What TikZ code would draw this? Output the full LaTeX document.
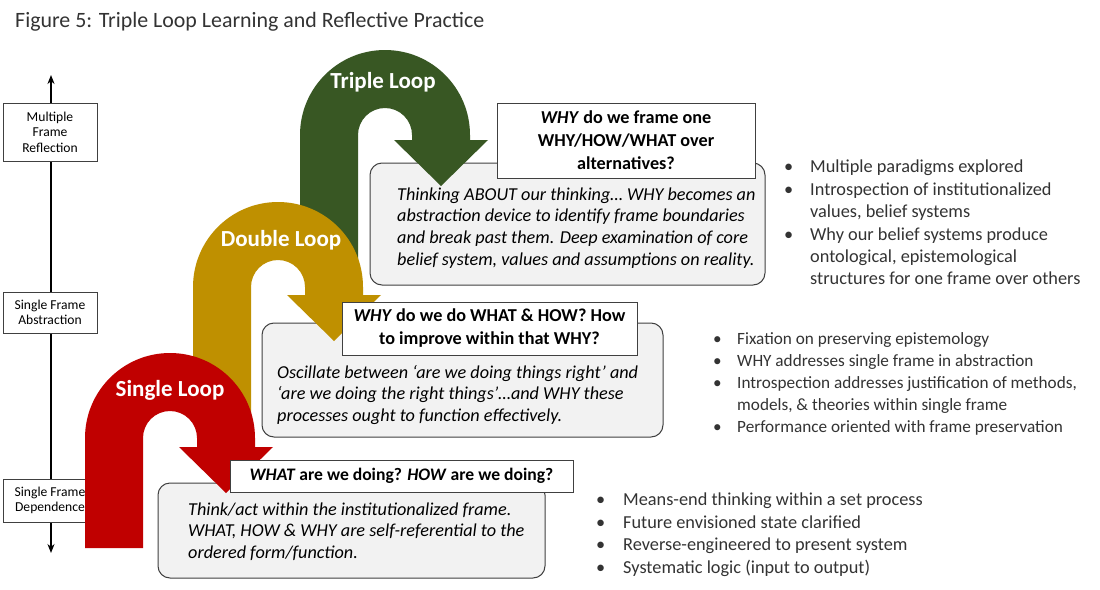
\documentclass[tikz,border=0pt]{standalone}
\usepackage{fontspec}
\setmainfont{Carlito}
\usetikzlibrary{arrows.meta}
\definecolor{redloop}{HTML}{C00000}
\definecolor{goldloop}{HTML}{BF9000}
\definecolor{greenloop}{HTML}{385723}
\definecolor{boxfill}{HTML}{F2F2F2}
\definecolor{boxline}{HTML}{404040}
\definecolor{txtgray}{HTML}{333333}
\newcommand\bulA[1]{\makebox[#1][l]{\textbullet}}
\newcommand\indA[1]{\hspace*{#1}}
% U-shaped arrow: #1 cx, #2 cy, #3 leg bottom, #4 head base, #5 colour
\newcommand\uloop[5]{%
  \fill[#5] ({#1-85},#3) -- ({#1-85},#2) arc[start angle=180,end angle=360,radius=85]
    -- ({#1+85},#4) -- ({#1+103},#4) -- ({#1+56},{#4+46}) -- ({#1+9},#4)
    -- ({#1+27},#4) -- ({#1+27},#2) arc[start angle=0,end angle=-180,radius=27]
    -- ({#1-27},#3) -- cycle;}
\begin{document}
\begin{tikzpicture}[x=1pt,y=-1pt,
  axisbox/.style={draw=boxline,fill=white,line width=0.8pt,align=center,inner sep=0pt,
    minimum width=94,font=\fontsize{13.6}{15.5}\selectfont},
  bodybox/.style={draw=boxline,fill=boxfill,line width=1pt,rounded corners=12,inner sep=0pt},
  headbox/.style={draw=boxline,fill=white,line width=1pt,inner sep=0pt,align=center,
    font=\fontsize{18.2}{23}\selectfont\bfseries},
  bodytext/.style={anchor=north west,inner sep=0pt,align=left,
    font=\fontsize{18.2}{21.6}\selectfont\itshape},
  bullets/.style={anchor=north west,inner sep=0pt,align=left,text=txtgray,
    font=\fontsize{18.3}{22.4}\selectfont},
  looplabel/.style={text=white,font=\fontsize{23}{26}\selectfont\bfseries,inner sep=0pt},
  axisline/.style={line width=1.8pt,{Stealth[length=9pt,width=7pt]}-{Stealth[length=9pt,width=7pt]}}
]
\useasboundingbox (0,0) rectangle (1100,589);
\fill[white] (0,0) rectangle (1100,589);

% title
\node[anchor=west,inner sep=0pt,text=txtgray,font=\fontsize{21.9}{26}\selectfont] (title) at (15,22)
  {Figure 5: Triple Loop Learning and Reflective Practice};

% axis
\coordinate (axtop) at (51,75);
\coordinate (axbot) at (51,553);
\draw[axisline] (axbot) -- (axtop);
\node[axisbox,minimum height=58] (mfr) at (50,132) {Multiple\\Frame\\Reflection};
\node[axisbox,minimum height=41] (sfa) at (50,312.5) {Single Frame\\Abstraction};
\node[axisbox,minimum height=43] (sfd) at (50,500.5) {Single Frame\\Dependence};

% body boxes
\node[bodybox,minimum width=395,minimum height=122] (gbody) at (567.5,224) {};
\node[bodybox,minimum width=401,minimum height=114] (ybody) at (462.5,380) {};
\node[bodybox,minimum width=387,minimum height=95] (rbody) at (351.5,530.5) {};

% loops
\uloop{385}{135}{265}{140}{greenloop}
\uloop{278}{287}{418}{295}{goldloop}
\uloop{170}{438}{548}{447}{redloop}
\node[looplabel] (tl) at (383,82) {Triple Loop};
\node[looplabel] (dl) at (281,240) {Double Loop};
\node[looplabel] (sl) at (170,390) {Single Loop};

% header boxes
\node[headbox,minimum width=258,minimum height=75] (ghead) at (626,140.5)
  {\textit{WHY} do we frame one\\WHY/HOW/WHAT over\\alternatives?};
\node[headbox,minimum width=295,minimum height=53] (yhead) at (489.5,328.5)
  {\textit{WHY} do we do WHAT \& HOW? How\\to improve within that WHY?};
\node[headbox,minimum width=343,minimum height=32,font=\fontsize{17.6}{23}\selectfont\bfseries] (rhead) at (401.5,476)
  {\textit{WHAT} are we doing? \textit{HOW} are we doing?};

% body texts
\node[bodytext] (gtext) at (397,187.5)
  {Thinking ABOUT our thinking… WHY becomes an\\abstraction device to identify frame boundaries\\and break past them. Deep examination of core\\belief system, values and assumptions on reality.};
\node[bodytext] (ytext) at (277,365)
  {Oscillate between ‘are we doing things right’ and\\‘are we doing the right things’…and WHY these\\processes ought to function effectively.};
\node[bodytext] (rtext) at (188,502.5)
  {Think/act within the institutionalized frame.\\WHAT, HOW \& WHY are self-referential to the\\ordered form/function.};

% bullets
\node[bullets] (glist) at (784,160)
  {\bulA{26pt}Multiple paradigms explored\\
   \bulA{26pt}Introspection of institutionalized\\
   \indA{26pt}values, belief systems\\
   \bulA{26pt}Why our belief systems produce\\
   \indA{26pt}ontological, epistemological\\
   \indA{26pt}structures for one frame over others};
\node[bullets,font=\fontsize{17.2}{22}\selectfont] (ylist) at (713,332.5)
  {\bulA{24pt}Fixation on preserving epistemology\\
   \bulA{24pt}WHY addresses single frame in abstraction\\
   \bulA{24pt}Introspection addresses justification of methods,\\
   \indA{24pt}models, \& theories within single frame\\
   \bulA{24pt}Performance oriented with frame preservation};
\node[bullets] (rlist) at (596,493)
  {\bulA{27pt}Means-end thinking within a set process\\
   \bulA{27pt}Future envisioned state clarified\\
   \bulA{27pt}Reverse-engineered to present system\\
   \bulA{27pt}Systematic logic (input to output)};
\end{tikzpicture}
\end{document}
